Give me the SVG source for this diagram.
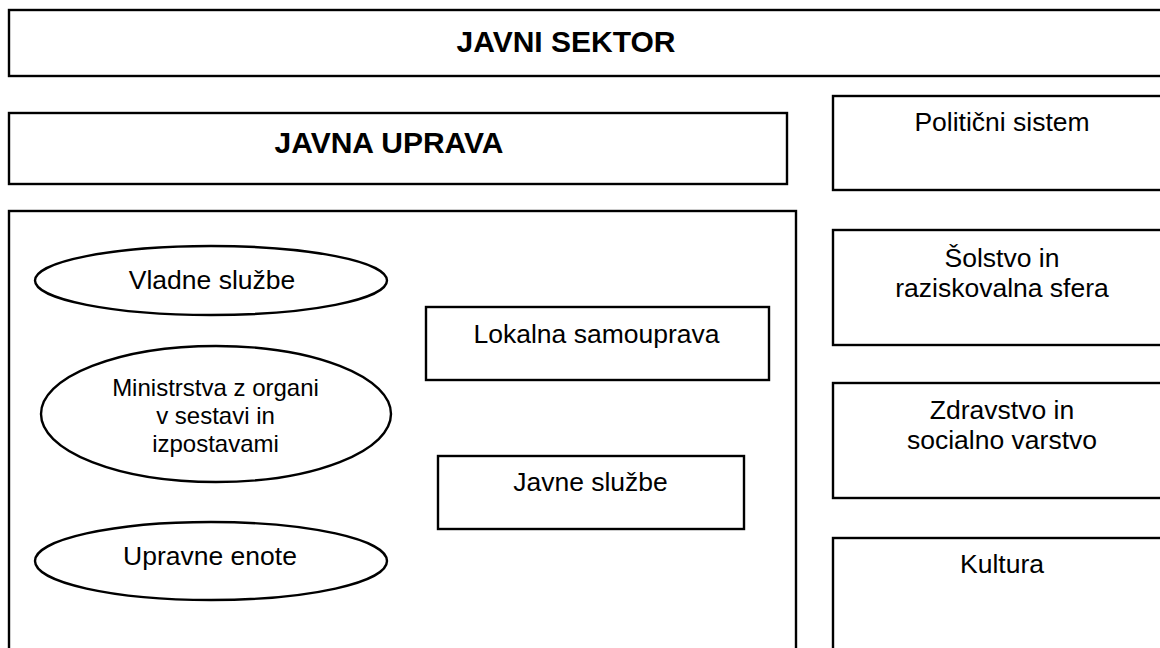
<svg xmlns="http://www.w3.org/2000/svg" width="1160" height="648" viewBox="0 0 1160 648">
<style>
.b{fill:#fff;stroke:#000;stroke-width:2.4}
.t{font-family:"Liberation Sans",Arial,sans-serif;font-size:26.5px;fill:#000;text-anchor:middle}
.s{font-size:24px}
.h{font-family:"Liberation Sans",Arial,sans-serif;font-size:30px;font-weight:bold;fill:#000;text-anchor:middle}
</style>
<rect width="1160" height="648" fill="#fff"/>
<g id="javni-sektor"><rect class="b" x="9" y="10" width="1170" height="66"/><text class="h" x="566" y="52">JAVNI SEKTOR</text></g>
<g id="javna-uprava"><rect class="b" x="9" y="113" width="778" height="71"/><text class="h" x="389" y="153">JAVNA UPRAVA</text></g>
<g id="uprava-vsebina"><rect class="b" x="9" y="211" width="787" height="460"/></g>
<g id="vladne-sluzbe"><ellipse class="b" cx="211" cy="280.5" rx="176" ry="34.5"/><text class="t" x="212" y="289">Vladne službe</text></g>
<g id="ministrstva"><ellipse class="b" cx="216" cy="414" rx="175" ry="68"/><text class="t s" x="215.5" y="396">Ministrstva z organi</text><text class="t s" x="215.5" y="424">v sestavi in</text><text class="t s" x="215.5" y="452">izpostavami</text></g>
<g id="upravne-enote"><ellipse class="b" cx="211" cy="561" rx="176" ry="39"/><text class="t" x="210" y="565">Upravne enote</text></g>
<g id="lokalna-samouprava"><rect class="b" x="426" y="307" width="343" height="73"/><text class="t" x="596.5" y="343">Lokalna samouprava</text></g>
<g id="javne-sluzbe"><rect class="b" x="438" y="456" width="306" height="73"/><text class="t" x="590.5" y="491">Javne službe</text></g>
<g id="politicni-sistem"><rect class="b" x="833" y="96" width="340" height="94"/><text class="t" x="1002" y="131">Politični sistem</text></g>
<g id="solstvo"><rect class="b" x="833" y="230" width="340" height="115"/><text class="t" x="1002" y="267">Šolstvo in</text><text class="t" x="1002" y="297">raziskovalna sfera</text></g>
<g id="zdravstvo"><rect class="b" x="833" y="383" width="340" height="115"/><text class="t" x="1002" y="419">Zdravstvo in</text><text class="t" x="1002" y="449">socialno varstvo</text></g>
<g id="kultura"><rect class="b" x="833" y="538" width="340" height="130"/><text class="t" x="1002" y="573">Kultura</text></g>
<g id="connectors"></g>
</svg>
